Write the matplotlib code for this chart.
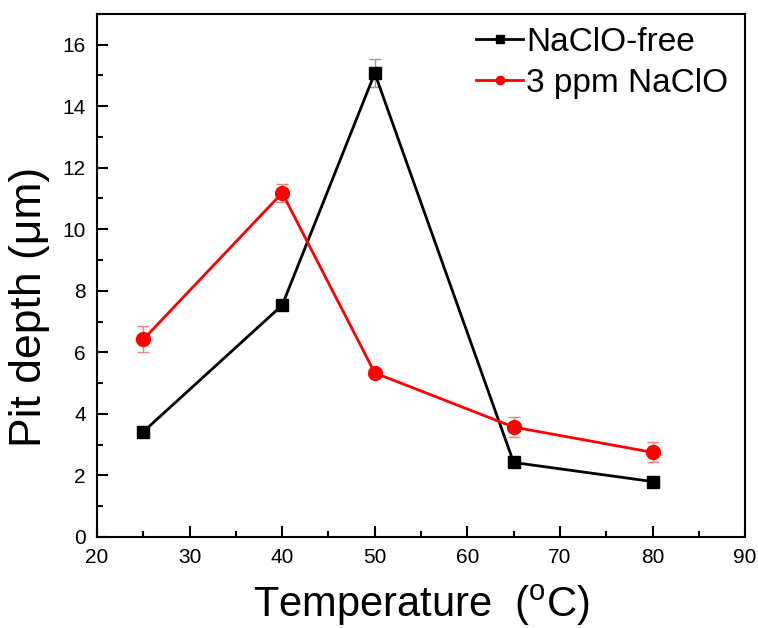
import matplotlib
matplotlib.use("Agg")
import matplotlib.pyplot as plt
from matplotlib.ticker import MultipleLocator

plt.rcParams['font.family'] = ['Liberation Sans', 'DejaVu Sans']
plt.rcParams['mathtext.fontset'] = 'custom'
plt.rcParams['mathtext.rm'] = 'Liberation Sans'

temperature = [25, 40, 50, 65, 80]
free_depth = [3.42, 7.53, 15.07, 2.42, 1.80]
free_err = [0.10, 0.10, 0.45, 0.15, 0.10]
naclo_depth = [6.42, 11.18, 5.33, 3.57, 2.75]
naclo_err = [0.42, 0.30, 0.10, 0.32, 0.32]
series_labels = ["NaClO-free", "3 ppm NaClO"]

fig = plt.figure(figsize=(7.58, 6.28), dpi=100)
ax = fig.add_axes([0.128, 0.145, 0.855, 0.833])

ax.errorbar(temperature, free_depth, yerr=free_err, fmt='none',
            ecolor='#9a9a9a', elinewidth=1.0, capsize=4, capthick=1.0, zorder=2)
ax.errorbar(temperature, naclo_depth, yerr=naclo_err, fmt='none',
            ecolor='#f08080', elinewidth=1.0, capsize=4, capthick=1.0, zorder=2)
ax.plot(temperature, free_depth, color='black', lw=2.0, marker='s', ms=9,
        label=series_labels[0], zorder=3)
ax.plot(temperature, naclo_depth, color='#ff0000', lw=2.0, marker='o', ms=10,
        label=series_labels[1], zorder=3)

ax.set_xlim(20, 90)
ax.set_ylim(0, 17)
ax.xaxis.set_major_locator(MultipleLocator(10))
ax.xaxis.set_minor_locator(MultipleLocator(5))
ax.yaxis.set_major_locator(MultipleLocator(2))
ax.yaxis.set_minor_locator(MultipleLocator(1))
ax.tick_params(which='major', direction='in', length=8, width=1.5, labelsize=15, pad=8)
ax.tick_params(which='minor', direction='in', length=4, width=1.5)
ax.tick_params(top=False, right=False)
for s in ax.spines.values():
    s.set_linewidth(1.5)

ax.set_xlabel(r"Temperature  ($^{\rm o}$C)", fontsize=30, labelpad=11)
ax.set_ylabel("Pit depth (μm)", fontsize=32)
ax.yaxis.set_label_coords(-0.073, 0.44)

leg = ax.legend(loc='upper right', frameon=False, fontsize=24, markerscale=0.6,
                handlelength=1.4, handletextpad=0.1, labelspacing=0.3,
                borderaxespad=0.0, bbox_to_anchor=(0.995, 1.0))

fig.savefig("out.png", dpi=100)
